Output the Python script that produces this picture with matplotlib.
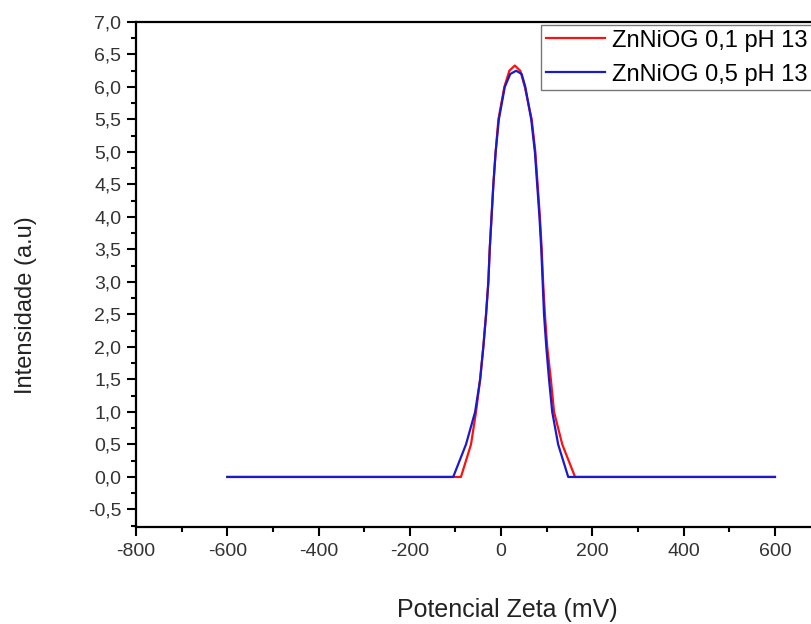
import matplotlib.pyplot as plt
from matplotlib.ticker import MultipleLocator, FuncFormatter

plt.rcParams['font.family'] = ['Liberation Sans', 'DejaVu Sans']

# Potencial zeta (mV) x intensidade
zeta_01 = [-600, -88, -66, -55, -46, -39, -33, -28, -25, -21, -17, -12, -6, 7, 18, 30,
           42, 52, 67, 75, 80, 85, 89, 92, 96, 101, 109, 116, 134, 162, 600]
int_01 = [0, 0, 0.5, 1.0, 1.5, 2.0, 2.5, 3.0, 3.5, 4.0, 4.5, 5.0, 5.5, 6.0, 6.25, 6.33,
          6.25, 6.0, 5.5, 5.0, 4.5, 4.0, 3.5, 3.0, 2.5, 2.0, 1.5, 1.0, 0.5, 0, 0]

zeta_05 = [-600, -105, -77, -57, -46, -39, -33, -28, -25, -21, -17, -12, -5, 8, 20, 33,
           45, 53, 66, 74, 79, 84, 88, 91, 94, 99, 105, 112, 125, 147, 600]
int_05 = [0, 0, 0.5, 1.0, 1.5, 2.0, 2.5, 3.0, 3.5, 4.0, 4.5, 5.0, 5.5, 6.0, 6.2, 6.25,
          6.2, 6.0, 5.5, 5.0, 4.5, 4.0, 3.5, 3.0, 2.5, 2.0, 1.5, 1.0, 0.5, 0, 0]

labels = ['ZnNiOG 0,1 pH 13', 'ZnNiOG 0,5 pH 13']

fig = plt.figure(figsize=(8.11, 6.24), dpi=100)
# axes run past the right edge, the original picture is cropped there
ax = fig.add_axes([136 / 811, 97 / 624, 684.6 / 811, 505 / 624])

ax.plot(zeta_01, int_01, color='#ff1010', lw=1.6, label=labels[0])
ax.plot(zeta_05, int_05, color='#1a1acc', lw=1.6, label=labels[1])

ax.set_xlim(-800, 700)
ax.set_ylim(-0.77, 7.0)

ax.xaxis.set_major_locator(MultipleLocator(200))
ax.xaxis.set_minor_locator(MultipleLocator(100))
ax.yaxis.set_major_locator(MultipleLocator(0.5))
ax.yaxis.set_minor_locator(MultipleLocator(0.25))
ax.yaxis.set_major_formatter(FuncFormatter(lambda v, p: ('%.1f' % v).replace('.', ',')))
ax.xaxis.set_major_formatter(FuncFormatter(lambda v, p: '%d' % v))

ax.tick_params(which='major', direction='out', length=6.5, width=1.5, labelsize=14,
               colors='black', labelcolor='#333333')
ax.tick_params(axis='x', which='major', pad=5)
ax.tick_params(axis='y', which='major', pad=4)
ax.tick_params(which='minor', direction='out', length=3.5, width=1.5)
for s in ax.spines.values():
    s.set_linewidth(1.6)

ax.set_xlabel('Potencial Zeta (mV)', fontsize=18, color='#222222')
ax.set_ylabel('Intensidade (a.u)', fontsize=17, color='#222222')
ax.xaxis.set_label_coords(0.542, -0.141)
ax.yaxis.set_label_coords(-0.145, 0.44)

leg = fig.legend(loc='upper left', bbox_to_anchor=(541 / 811, 1 - 25 / 624),
                 fontsize=17, handlelength=2.5, handletextpad=0.3,
                 labelspacing=0.5, borderpad=0.2, borderaxespad=0,
                 fancybox=False, framealpha=1, edgecolor='#777777')
leg.get_frame().set_linewidth(1.0)

fig.savefig('out.png', dpi=100)
